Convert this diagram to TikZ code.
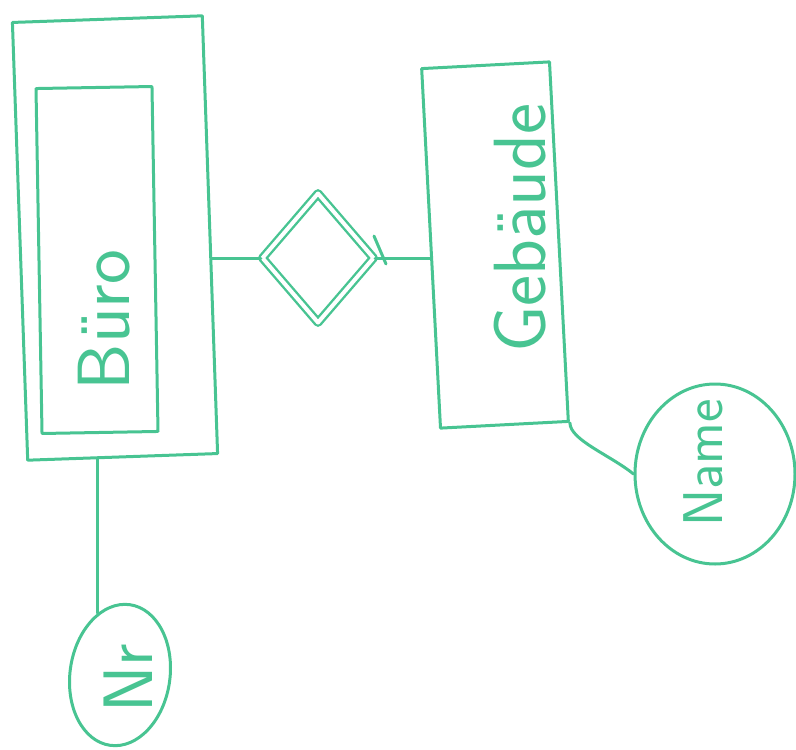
\documentclass[tikz,border=0pt]{standalone}
\usetikzlibrary{shapes.geometric}
\definecolor{pen}{RGB}{72,196,146}
\begin{document}
\begin{tikzpicture}[x=1pt,y=-1pt,
  pline/.style={draw=pen,line width=3pt,line cap=round,line join=round},
  entity/.style={pline,rectangle,inner sep=0pt},
  relbox/.style={pline,diamond,inner sep=0pt,double=white,double distance=4pt,line width=2.4pt},
  attr/.style={pline,ellipse,inner sep=0pt},
  lbl/.style={text=pen,inner sep=0pt,font=\sffamily}
]
\useasboundingbox (0,0) rectangle (796,750);
% Buero (weak entity, double box)
\node[entity,minimum width=190pt,minimum height=438pt,rotate=2] (bo) at (115,238) {};
\node[entity,minimum width=116pt,minimum height=345pt,rotate=1] (bi) at (97,260) {};
\node[lbl,rotate=90,font=\sffamily\fontsize{74}{74}\selectfont] (bt) at (104,320) {Büro};
% relationship
\node[relbox,minimum width=112pt,minimum height=130pt] (dia) at (318,258) {};
% Gebaeude
\node[entity,minimum width=128pt,minimum height=360pt,rotate=3] (ge) at (495,245) {};
\node[lbl,rotate=90,font=\sffamily\fontsize{74}{74}\selectfont] (gt) at (520,228) {Gebäude};
% attributes
\node[attr,minimum width=160pt,minimum height=180pt] (na) at (715,474) {};
\node[lbl,rotate=90,font=\sffamily\fontsize{56}{56}\selectfont] (nt) at (703,463) {Name};
\node[attr,minimum width=100pt,minimum height=142pt,rotate=-8] (nr) at (120,675) {};
\node[lbl,rotate=90,font=\sffamily\fontsize{70}{70}\selectfont] (nrt) at (128,678) {Nr};
% connectors
\draw[pline] (dia.west) -- (dia.west -| bo.east);
\draw[pline] (dia.east) -- (dia.east -| ge.west);
\coordinate (tk) at (380,250);
\draw[pline] ([shift={(-6,-14)}]tk) -- ([shift={(6,14)}]tk);
\draw[pline] (ge.south east) .. controls (570,440) and (610,455) .. (na.west);
\draw[pline] (nr.118) -- (nr.118 |- bo.south);
\end{tikzpicture}
\end{document}
